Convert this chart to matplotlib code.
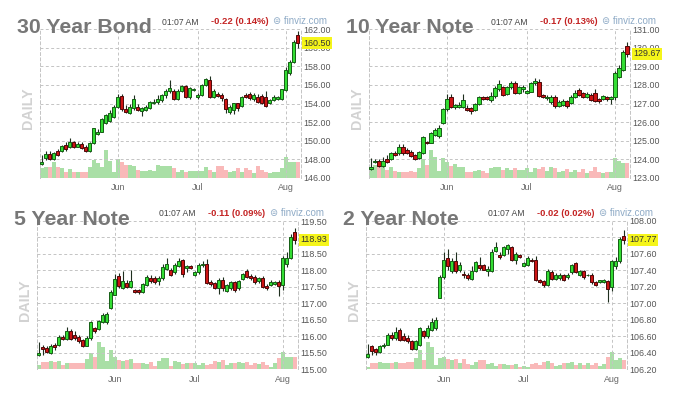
"""
Four finviz-style daily candlestick panels for US Treasury futures.
"""

import numpy as np
import matplotlib
matplotlib.use("Agg")
import matplotlib.pyplot as plt

plt.rcParams['font.family'] = ['Liberation Sans', 'DejaVu Sans']

# trading day index of the first session of each month
month_ticks = [19, 39, 61]
month_labels = ['Jun', 'Jul', 'Aug']

# ---- 30 Year Bond ----
bond30_open = [
    147.45, 148.09, 148.55, 147.98, 148.9, 148.9, 149.5, 149.35, 149.85, 149.35,
    149.63, 149.35, 148.9, 149.7, 150.7, 150.96, 151.94, 152.15, 152.5, 153.6,
    154.81, 153.45, 153.01, 153.52, 153.66, 153.2, 153.3, 153.48, 154.02, 154.17,
    154.38, 154.92, 155.35, 155.39, 154.53, 155.39, 155.9, 154.67, 155.46, 154.74,
    154.92, 156.0, 156.54, 154.74, 154.99, 154.92, 154.53, 153.12, 153.3, 154.02,
    153.73, 154.96, 155.03, 154.45, 154.74, 154.81, 154.74, 154.09, 154.38, 154.53,
    154.53, 155.46, 157.26, 158.52, 161.4]
bond30_close = [
    147.7, 148.55, 147.98, 148.63, 148.4, 149.4, 149.05, 149.85, 149.35, 149.63,
    149.2, 148.9, 149.78, 151.32, 150.96, 152.3, 152.76, 152.94, 153.66, 154.67,
    153.37, 153.09, 153.6, 154.45, 153.3, 153.48, 153.6, 154.2, 154.2, 154.53,
    154.92, 155.39, 155.68, 154.45, 155.39, 155.9, 154.74, 155.68, 155.6, 154.92,
    156.0, 156.68, 154.74, 155.32, 154.85, 154.56, 153.45, 153.6, 154.02, 153.48,
    154.74, 154.74, 154.56, 154.92, 154.2, 154.02, 153.73, 154.38, 154.74, 154.67,
    155.53, 157.62, 158.52, 160.68, 160.5]
bond30_high = [
    148.4, 148.9, 148.9, 148.8, 149.1, 149.5, 149.8, 150.3, 150.0, 149.9,
    149.8, 149.5, 149.9, 151.4, 151.2, 152.4, 152.9, 153.3, 153.8, 155.0,
    155.0, 153.8, 153.9, 154.9, 153.9, 153.6, 153.8, 154.3, 154.5, 154.9,
    155.0, 155.6, 156.5, 155.6, 155.6, 156.0, 156.0, 155.8, 155.7, 155.1,
    156.1, 156.8, 157.0, 155.6, 155.2, 155.1, 154.6, 153.8, 154.1, 154.1,
    154.8, 155.1, 155.2, 155.1, 155.0, 155.0, 155.3, 154.5, 154.9, 154.8,
    155.6, 157.9, 158.7, 160.9, 161.85]
bond30_low = [
    147.4, 147.9, 147.9, 147.9, 148.3, 148.8, 148.9, 149.2, 149.2, 149.3,
    149.1, 148.8, 148.8, 149.6, 150.6, 150.9, 151.8, 152.0, 152.4, 153.5,
    153.2, 153.0, 152.9, 153.3, 153.2, 152.7, 153.2, 153.4, 153.9, 154.0,
    154.2, 154.6, 155.1, 154.4, 154.4, 155.2, 154.6, 154.5, 155.3, 154.5,
    154.8, 155.9, 154.6, 154.6, 154.7, 154.3, 153.0, 152.9, 152.9, 153.2,
    153.6, 154.6, 154.4, 154.3, 154.1, 153.9, 153.6, 154.0, 154.3, 154.4,
    154.4, 155.4, 157.1, 158.4, 160.0]
bond30_vol = [
    28, 33, 33, 48, 33, 28, 16, 25, 16, 16,
    16, 16, 33, 53, 43, 33, 83, 51, 18, 55,
    48, 38, 38, 36, 23, 21, 21, 23, 21, 38,
    36, 36, 35, 28, 18, 23, 16, 19, 21, 21,
    19, 33, 23, 16, 36, 35, 23, 18, 21, 28,
    18, 28, 23, 13, 35, 23, 18, 15, 16, 18,
    28, 61, 48, 48, 48]

# ---- 10 Year Note ----
note10_open = [
    123.45, 123.85, 123.92, 123.63, 124.0, 124.0, 124.35, 124.31, 124.64, 124.5,
    124.4, 124.22, 124.04, 124.35, 124.94, 124.89, 125.3, 125.25, 125.97, 126.69,
    127.37, 126.8, 126.83, 126.83, 126.78, 126.74, 126.65, 126.97, 127.33, 127.33,
    127.19, 127.41, 127.77, 127.87, 127.51, 127.87, 128.13, 127.55, 127.78, 127.55,
    127.64, 128.09, 128.18, 127.46, 127.28, 127.1, 127.37, 126.87, 126.92, 127.15,
    127.01, 127.33, 127.73, 127.55, 127.37, 127.46, 127.55, 127.24, 127.23, 127.33,
    127.26, 127.37, 128.45, 128.81, 130.1]
note10_close = [
    123.6, 123.92, 123.63, 123.92, 123.86, 124.35, 124.2, 124.64, 124.31, 124.35,
    124.17, 124.03, 124.4, 125.18, 124.85, 125.4, 125.57, 125.66, 126.69, 127.26,
    126.8, 126.92, 126.9, 127.19, 126.65, 126.62, 126.97, 127.33, 127.26, 127.23,
    127.41, 127.82, 128.05, 127.46, 127.87, 128.13, 127.55, 127.87, 127.91, 127.69,
    128.09, 128.22, 127.41, 127.37, 127.37, 127.37, 126.87, 127.1, 127.15, 126.87,
    127.37, 127.59, 127.46, 127.37, 127.51, 127.19, 127.15, 127.15, 127.41, 127.23,
    127.37, 128.67, 128.9, 129.8, 129.67]
note10_high = [
    124.05, 124.0, 124.0, 124.1, 124.2, 124.4, 124.45, 124.8, 124.8, 124.6,
    124.5, 124.3, 124.45, 125.25, 125.0, 125.45, 125.7, 125.85, 126.75, 127.5,
    127.5, 127.0, 127.1, 127.5, 126.9, 126.8, 127.05, 127.4, 127.4, 127.4,
    127.6, 127.95, 128.25, 127.95, 127.95, 128.2, 128.2, 127.95, 128.0, 127.75,
    128.15, 128.35, 128.3, 127.5, 127.45, 127.45, 127.45, 127.2, 127.25, 127.2,
    127.45, 127.75, 127.85, 127.6, 127.6, 127.55, 127.8, 127.3, 127.45, 127.4,
    127.4, 128.75, 129.05, 129.9, 130.3]
note10_low = [
    123.4, 123.8, 123.55, 123.6, 123.8, 123.95, 124.15, 124.25, 124.25, 124.3,
    124.1, 123.95, 124.0, 124.3, 124.8, 124.85, 125.25, 125.15, 125.9, 126.6,
    126.75, 126.7, 126.75, 126.75, 126.6, 126.45, 126.6, 126.9, 127.2, 127.2,
    127.1, 127.3, 127.7, 127.4, 127.45, 127.8, 127.5, 127.5, 127.6, 127.5,
    127.6, 128.0, 127.35, 127.3, 127.2, 127.0, 126.75, 126.8, 126.85, 126.75,
    126.95, 127.3, 127.4, 127.3, 127.3, 127.15, 127.1, 127.05, 127.2, 127.15,
    127.0, 127.2, 128.4, 128.75, 129.5]
note10_vol = [
    28, 37, 35, 33, 23, 33, 21, 18, 18, 18,
    19, 18, 28, 55, 38, 83, 61, 21, 58, 48,
    35, 41, 33, 33, 18, 18, 21, 23, 21, 15,
    28, 33, 33, 23, 28, 23, 28, 23, 23, 28,
    18, 28, 25, 31, 21, 33, 28, 18, 21, 25,
    18, 23, 18, 25, 13, 21, 33, 18, 13, 18,
    18, 58, 51, 43, 45]

# ---- 5 Year Note ----
note5_open = [
    115.43, 115.69, 115.64, 115.5, 115.74, 115.74, 115.99, 115.92, 116.16, 116.04,
    115.99, 115.88, 115.72, 115.94, 116.26, 116.24, 116.45, 116.45, 116.85, 117.27,
    117.82, 117.48, 117.61, 117.51, 117.41, 117.41, 117.36, 117.56, 117.76, 117.76,
    117.68, 117.76, 118.04, 118.01, 117.94, 118.14, 118.31, 118.06, 118.14, 117.86,
    117.94, 118.16, 118.21, 117.64, 117.61, 117.48, 117.71, 117.38, 117.46, 117.64,
    117.46, 117.74, 117.98, 117.84, 117.81, 117.68, 117.76, 117.54, 117.56, 117.58,
    117.64, 117.56, 118.19, 118.37, 119.16]
note5_close = [
    115.5, 115.62, 115.54, 115.72, 115.68, 115.99, 115.92, 116.16, 115.92, 115.96,
    115.86, 115.72, 115.94, 116.45, 116.16, 116.47, 116.65, 116.67, 117.36, 117.74,
    117.54, 117.68, 117.51, 117.68, 117.36, 117.34, 117.58, 117.81, 117.68, 117.66,
    117.78, 118.11, 118.21, 117.86, 118.18, 118.29, 117.88, 118.14, 118.08, 117.94,
    118.18, 118.21, 117.61, 117.58, 117.48, 117.71, 117.48, 117.56, 117.64, 117.41,
    117.68, 117.88, 117.81, 117.76, 117.66, 117.76, 117.51, 117.48, 117.64, 117.64,
    117.54, 118.37, 118.37, 119.02, 118.93]
note5_high = [
    115.82, 115.75, 115.72, 115.78, 115.8, 116.05, 116.05, 116.28, 116.22, 116.15,
    116.05, 115.92, 116.0, 116.48, 116.3, 116.5, 116.72, 116.75, 117.4, 117.9,
    117.92, 117.98, 117.7, 118.0, 117.45, 117.45, 117.62, 117.85, 117.87, 117.82,
    117.82, 118.2, 118.38, 118.06, 118.24, 118.37, 118.36, 118.16, 118.18, 117.98,
    118.22, 118.28, 118.35, 117.7, 117.66, 117.78, 117.8, 117.6, 117.68, 117.68,
    117.72, 117.93, 118.05, 117.88, 117.85, 117.8, 117.82, 117.58, 117.7, 117.67,
    117.7, 118.45, 118.55, 119.1, 119.28]
note5_low = [
    115.4, 115.45, 115.5, 115.47, 115.6, 115.7, 115.88, 115.88, 115.88, 115.9,
    115.8, 115.68, 115.7, 115.9, 116.1, 116.2, 116.4, 116.37, 116.82, 117.25,
    117.48, 117.45, 117.47, 117.48, 117.32, 117.28, 117.33, 117.52, 117.63, 117.6,
    117.55, 117.72, 118.0, 117.82, 117.9, 118.1, 117.8, 117.95, 118.04, 117.83,
    117.9, 118.12, 117.58, 117.52, 117.44, 117.3, 117.38, 117.34, 117.42, 117.35,
    117.42, 117.7, 117.77, 117.72, 117.6, 117.62, 117.46, 117.42, 117.52, 117.55,
    117.23, 117.4, 118.12, 118.35, 118.8]
note5_vol = [
    13, 23, 23, 25, 23, 25, 13, 18, 18, 18,
    18, 18, 31, 48, 38, 83, 68, 25, 58, 36,
    28, 25, 28, 31, 18, 18, 18, 15, 21, 11,
    25, 35, 35, 11, 25, 23, 15, 18, 18, 18,
    13, 18, 13, 15, 25, 23, 28, 13, 18, 18,
    23, 18, 23, 13, 18, 15, 23, 13, 8, 18,
    33, 53, 36, 38, 36]

# ---- 2 Year Note ----
note2_open = [
    106.35, 106.48, 106.45, 106.41, 106.48, 106.5, 106.62, 106.58, 106.68, 106.6,
    106.58, 106.54, 106.45, 106.5, 106.66, 106.6, 106.68, 106.7, 107.06, 107.32,
    107.55, 107.39, 107.51, 107.4, 107.36, 107.35, 107.3, 107.39, 107.47, 107.47,
    107.39, 107.39, 107.64, 107.59, 107.59, 107.66, 107.68, 107.53, 107.59, 107.46,
    107.47, 107.53, 107.53, 107.28, 107.27, 107.22, 107.38, 107.3, 107.31, 107.35,
    107.32, 107.38, 107.49, 107.35, 107.39, 107.34, 107.35, 107.26, 107.26, 107.26,
    107.27, 107.2, 107.45, 107.51, 107.82]
note2_close = [
    106.39, 106.42, 106.41, 106.48, 106.5, 106.62, 106.58, 106.65, 106.56, 106.56,
    106.54, 106.45, 106.54, 106.7, 106.6, 106.7, 106.78, 106.8, 107.32, 107.53,
    107.46, 107.51, 107.39, 107.47, 107.34, 107.31, 107.39, 107.5, 107.43, 107.41,
    107.42, 107.62, 107.69, 107.56, 107.68, 107.71, 107.53, 107.6, 107.56, 107.49,
    107.55, 107.51, 107.28, 107.26, 107.22, 107.39, 107.3, 107.35, 107.35, 107.28,
    107.35, 107.47, 107.38, 107.39, 107.32, 107.35, 107.26, 107.22, 107.28, 107.28,
    107.18, 107.51, 107.51, 107.78, 107.77]
note2_high = [
    106.51, 106.5, 106.46, 106.5, 106.52, 106.64, 106.65, 106.72, 106.7, 106.64,
    106.62, 106.56, 106.56, 106.72, 106.68, 106.74, 106.82, 106.83, 107.34, 107.62,
    107.66, 107.55, 107.62, 107.5, 107.39, 107.37, 107.45, 107.52, 107.56, 107.48,
    107.45, 107.66, 107.74, 107.62, 107.7, 107.72, 107.7, 107.62, 107.6, 107.5,
    107.58, 107.55, 107.57, 107.3, 107.28, 107.42, 107.4, 107.37, 107.37, 107.36,
    107.37, 107.48, 107.5, 107.4, 107.4, 107.36, 107.37, 107.27, 107.29, 107.3,
    107.29, 107.53, 107.56, 107.8, 107.89]
note2_low = [
    106.34, 106.38, 106.38, 106.4, 106.46, 106.49, 106.56, 106.56, 106.54, 106.54,
    106.52, 106.44, 106.44, 106.48, 106.58, 106.58, 106.66, 106.68, 107.06, 107.3,
    107.4, 107.37, 107.37, 107.38, 107.31, 107.28, 107.29, 107.38, 107.41, 107.4,
    107.33, 107.38, 107.62, 107.54, 107.58, 107.6, 107.52, 107.48, 107.55, 107.45,
    107.46, 107.5, 107.27, 107.25, 107.2, 107.21, 107.29, 107.28, 107.29, 107.27,
    107.3, 107.36, 107.37, 107.33, 107.3, 107.33, 107.24, 107.21, 107.25, 107.25,
    107.02, 107.15, 107.42, 107.49, 107.72]
note2_vol = [
    8, 18, 18, 23, 18, 18, 18, 21, 18, 18,
    21, 23, 35, 58, 28, 83, 68, 13, 35, 38,
    31, 28, 31, 18, 31, 15, 13, 23, 28, 28,
    15, 18, 11, 15, 15, 13, 13, 15, 8, 11,
    8, 15, 18, 13, 21, 25, 18, 11, 13, 18,
    18, 21, 13, 18, 13, 18, 13, 18, 11, 15,
    38, 53, 28, 33, 28]

FIG_W, FIG_H = 673, 394
AX_W, AX_H = 260.8, 148.4
GRID = '#c4c4c4'


def fx(x):
    return x / FIG_W


def fy(y):
    return 1 - y / FIG_H


def draw_panel(fig, left, top, title, change, o, h, l, c, vol, ylim, step):
    """Draw one candlestick panel, left/top are pixel positions of the plot box."""
    rect = [fx(left), fy(top + AX_H), AX_W / FIG_W, AX_H / FIG_H]
    vax = fig.add_axes(rect)
    ax = fig.add_axes(rect, sharex=vax)

    o, h, l, c = map(np.asarray, (o, h, l, c))
    x = np.arange(len(c))
    up = c >= o

    # volume at the bottom
    vax.bar(x, vol, width=1.0, color=np.where(up, '#a9dfa6', '#f9b9b9'), linewidth=0)
    vax.set_ylim(0, 445)
    vax.axis('off')

    ax.set_facecolor('none')
    ax.vlines(x, l, h, color='#1f2f1f', linewidth=0.8, zorder=3)
    body = np.maximum(np.abs(c - o), (ylim[1] - ylim[0]) * 0.006)
    ax.bar(x, body, bottom=np.minimum(o, c), width=0.8,
           color=np.where(up, '#33dd33', '#cc1414'),
           edgecolor=np.where(up, '#155d15', '#4d0808'), linewidth=0.7, zorder=4)

    ax.set_xlim(-0.5, 64.7)
    ax.set_ylim(*ylim)
    ticks = np.round(np.arange(ylim[0], ylim[1] + step / 2, step), 2)
    ax.set_yticks(ticks)
    ax.set_yticklabels(['%.2f' % t for t in ticks])
    ax.yaxis.tick_right()
    ax.set_xticks(month_ticks)
    ax.set_xticklabels(month_labels)
    ax.tick_params(axis='y', length=0, pad=2, labelsize=6.4, labelcolor='#555555')
    ax.tick_params(axis='x', length=0, pad=4, labelsize=6.4, labelcolor='#666666')
    ax.grid(True, color=GRID, linestyle=(0, (3, 2.5)), linewidth=0.7)
    ax.set_axisbelow(True)
    for side in ('top', 'bottom'):
        ax.spines[side].set_visible(False)
    for side in ('left', 'right'):
        ax.spines[side].set_color(GRID)
        ax.spines[side].set_linestyle((0, (3, 2.5)))
        ax.spines[side].set_linewidth(0.7)

    # last price tag, drawn over the price scale like the original
    ax.annotate('%.2f' % c[-1], xy=(1, c[-1]), xycoords=('axes fraction', 'data'),
                xytext=(2.2, 0), textcoords='offset points', va='center', ha='left',
                fontsize=6.4, color='#333333',
                bbox=dict(boxstyle='square,pad=0.15', fc='#f5f51a', ec='none'),
                zorder=10, annotation_clip=False)

    # header texts
    fig.text(fx(left - 23), fy(top + 4), title, fontsize=15.3, fontweight='bold',
             color='#777777', va='baseline', ha='left')
    fig.text(fx(left + 122), fy(top - 7), '01:07 AM', fontsize=6.2,
             color='#444444', va='center', ha='left')
    fig.text(fx(left + 171), fy(top - 7.5), change, fontsize=6.8, fontweight='bold',
             color='#c42424', va='center', ha='left')
    fig.text(fx(left + 233), fy(top - 8.5), '\u229c finviz.com', fontsize=7,
             color='#8eaac6', va='center', ha='left')
    fig.text(fx(left - 12), fy(top + AX_H / 2 + 5), 'DAILY', fontsize=10.3,
             fontweight='bold', color='#d2d2d2', rotation=90, va='center', ha='center')


fig = plt.figure(figsize=(FIG_W / 100, FIG_H / 100), dpi=100)

draw_panel(fig, 39.7, 29.3, '30 Year Bond', '-0.22 (0.14%)',
           bond30_open, bond30_high, bond30_low, bond30_close, bond30_vol, (146, 162), 2)
draw_panel(fig, 369.0, 29.3, '10 Year Note', '-0.17 (0.13%)',
           note10_open, note10_high, note10_low, note10_close, note10_vol, (123, 131), 1)
draw_panel(fig, 36.7, 221.0, '5 Year Note', '-0.11 (0.09%)',
           note5_open, note5_high, note5_low, note5_close, note5_vol, (115, 119.5), 0.5)
draw_panel(fig, 365.7, 221.0, '2 Year Note', '-0.02 (0.02%)',
           note2_open, note2_high, note2_low, note2_close, note2_vol, (106.2, 108.0), 0.2)

fig.savefig('out.png', dpi=100)
